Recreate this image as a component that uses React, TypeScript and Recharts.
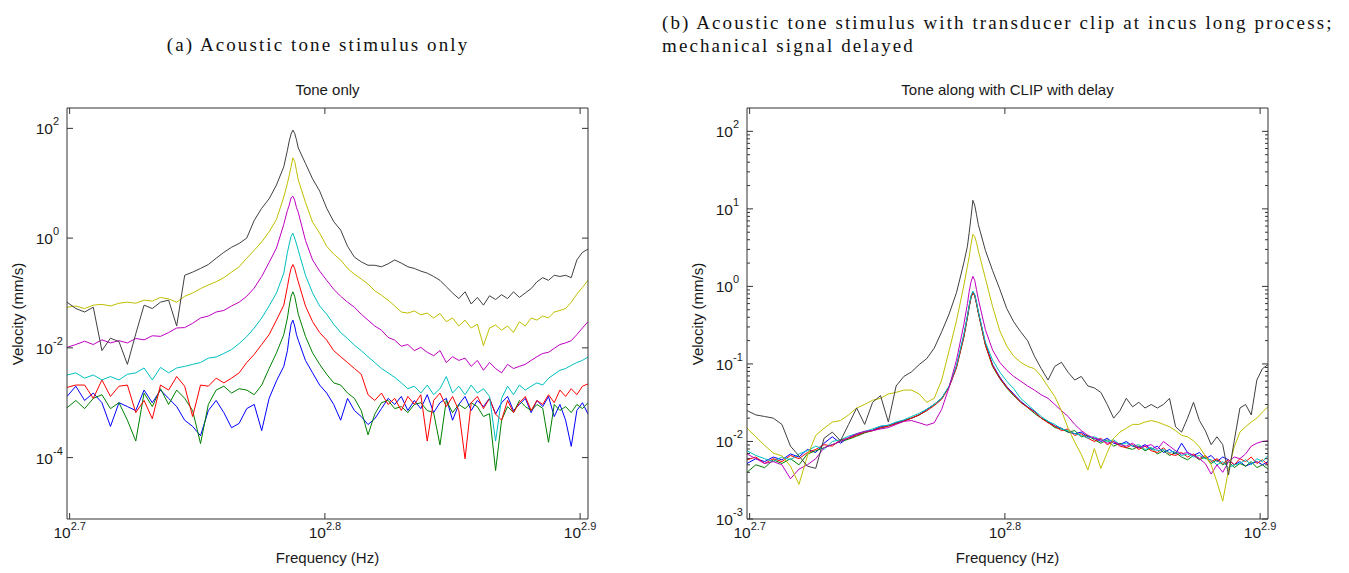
import React from "react";
import { Line, LineChart, XAxis, YAxis } from "recharts";

// frequency grid shared by every trace (Hz)
const freqHz = [
  500, 504, 508, 512, 516, 520, 524, 528, 532, 536,
  540, 544, 548, 552, 556, 560, 564, 568, 572, 576,
  580, 584, 588, 592, 596, 600, 604, 608,
  610, 611, 612, 613, 614, 615,
  616, 620, 624, 628, 632, 636, 640, 644, 648, 652,
  656, 660, 664, 668, 672, 676, 680, 684, 688, 692,
  696, 700, 704, 708, 712, 716, 720, 724, 728, 732,
  736, 740, 744, 748, 752, 756, 760, 764, 768, 772,
  776, 780, 784, 788, 792, 796, 800,
];

// (a) tone only, velocity in mm/s
const toneBlack = [
  0.068, 0.052, 0.045, 0.055, 0.0089, 0.015, 0.013, 0.005, 0.018, 0.06,
  0.052, 0.068, 0.074, 0.025, 0.21, 0.24, 0.28, 0.33, 0.43, 0.55,
  0.68, 0.8, 1.0, 2.1, 3.5, 5.2, 9.3, 20,
  40, 59, 79, 93, 81, 62,
  44, 23, 12, 7.2, 3.5, 2.0, 1.4, 0.71, 0.45, 0.37,
  0.32, 0.32, 0.3, 0.34, 0.4, 0.35, 0.3, 0.28, 0.25, 0.23,
  0.2, 0.17, 0.13, 0.1, 0.079, 0.105, 0.063, 0.083, 0.06, 0.089,
  0.076, 0.093, 0.079, 0.105, 0.083, 0.1, 0.12, 0.16, 0.19, 0.17,
  0.21, 0.2, 0.21, 0.19, 0.4, 0.55, 0.63,
];
const toneYellow = [
  0.055, 0.058, 0.052, 0.06, 0.062, 0.058, 0.065, 0.068, 0.065, 0.074,
  0.071, 0.083, 0.078, 0.068, 0.087, 0.1, 0.12, 0.14, 0.16, 0.19,
  0.24, 0.3, 0.43, 0.6, 0.85, 1.3, 2.2, 5.6,
  10, 14, 20, 29, 25, 17,
  11.5, 4.5, 1.95, 1.23, 0.71, 0.51, 0.4, 0.28, 0.22, 0.18,
  0.145, 0.11, 0.091, 0.074, 0.058, 0.045, 0.043, 0.047, 0.04, 0.043,
  0.035, 0.042, 0.03, 0.035, 0.025, 0.032, 0.023, 0.027, 0.011, 0.023,
  0.026, 0.021, 0.025, 0.019, 0.03, 0.025, 0.035, 0.032, 0.038, 0.035,
  0.045, 0.048, 0.052, 0.068, 0.095, 0.126, 0.17,
];
const toneMagenta = [
  0.0102, 0.0115, 0.0132, 0.0115, 0.014, 0.0123, 0.0135, 0.0123, 0.0148, 0.014,
  0.0166, 0.0162, 0.019, 0.023, 0.0234, 0.028, 0.035, 0.038, 0.045, 0.048,
  0.058, 0.068, 0.087, 0.123, 0.2, 0.36, 0.66, 1.78,
  3.2, 4.0, 5.4, 5.8, 4.9, 3.6,
  2.95, 0.91, 0.4, 0.25, 0.17, 0.117, 0.087, 0.068, 0.055, 0.041,
  0.032, 0.025, 0.021, 0.0155, 0.0138, 0.0107, 0.0115, 0.0089, 0.0102, 0.0083,
  0.0072, 0.0089, 0.0054, 0.0069, 0.0059, 0.0065, 0.0046, 0.0059, 0.0039, 0.0054,
  0.0042, 0.0035, 0.005, 0.0042, 0.0046, 0.005, 0.0059, 0.0069, 0.0079, 0.0083,
  0.0098, 0.0115, 0.0123, 0.0135, 0.0174, 0.023, 0.03,
];
const toneCyan = [
  0.0032, 0.0035, 0.0028, 0.0032, 0.0026, 0.003, 0.0026, 0.0033, 0.0035, 0.0043,
  0.0026, 0.0044, 0.0035, 0.0043, 0.0046, 0.005, 0.0054, 0.0065, 0.0068, 0.0079,
  0.0093, 0.012, 0.016, 0.023, 0.035, 0.058, 0.1, 0.23,
  0.55, 0.78, 1.07, 1.23, 1.0, 0.78,
  0.6, 0.21, 0.1, 0.058, 0.041, 0.027, 0.019, 0.0148, 0.0112, 0.0089,
  0.0069, 0.0054, 0.0042, 0.0035, 0.0029, 0.0023, 0.0018, 0.002, 0.0015, 0.0021,
  0.0014, 0.0018, 0.003, 0.0015, 0.002, 0.0014, 0.0021, 0.0015, 0.0018, 0.0013,
  0.0002, 0.0012, 0.002, 0.0014, 0.0021, 0.0017, 0.002, 0.0023, 0.0021, 0.0028,
  0.0033, 0.0039, 0.0042, 0.0048, 0.0054, 0.0059, 0.0068,
];
const toneRed = [
  0.0019, 0.0021, 0.0021, 0.0012, 0.0026, 0.0013, 0.002, 0.0021, 0.00066, 0.0011,
  0.00051, 0.0021, 0.0017, 0.003, 0.002, 0.00056, 0.0021, 0.002, 0.0028, 0.0023,
  0.0028, 0.0035, 0.0054, 0.0076, 0.0115, 0.0174, 0.032, 0.06,
  0.13, 0.2, 0.28, 0.33, 0.28, 0.21,
  0.16, 0.058, 0.03, 0.019, 0.0138, 0.0089, 0.0069, 0.0054, 0.0042, 0.0033,
  0.0014, 0.0011, 0.0015, 0.00093, 0.0012, 0.00072, 0.0013, 0.00093, 0.0014, 0.0002,
  0.0011, 0.0015, 0.00085, 0.0013, 0.00072, 0.000095, 0.001, 0.0013, 0.00078, 0.0012,
  0.00062, 0.00048, 0.0011, 0.00066, 0.001, 0.0013, 0.00072, 0.0011, 0.00093, 0.0014,
  0.001, 0.0017, 0.0013, 0.0018, 0.0014, 0.002, 0.0022,
];
const toneGreen = [
  0.00081, 0.0011, 0.00078, 0.0012, 0.0014, 0.00078, 0.001, 0.00048, 0.0002, 0.0015,
  0.00085, 0.0018, 0.00093, 0.0017, 0.0012, 0.00072, 0.00018, 0.00093, 0.0017, 0.002,
  0.0015, 0.0018, 0.0017, 0.0014, 0.0021, 0.0042, 0.0081, 0.0174,
  0.035, 0.058, 0.087, 0.105, 0.087, 0.06,
  0.041, 0.0162, 0.0081, 0.005, 0.0033, 0.0023, 0.0021, 0.0015, 0.0012, 0.00072,
  0.00026, 0.00062, 0.001, 0.0011, 0.00078, 0.00085, 0.00066, 0.00093, 0.001, 0.00072,
  0.00066, 0.00017, 0.0011, 0.00066, 0.00093, 0.00078, 0.001, 0.00085, 0.00056, 0.00063,
  0.000058, 0.00048, 0.00085, 0.00066, 0.0011, 0.00085, 0.00072, 0.00093, 0.00079, 0.00019,
  0.00093, 0.00072, 0.00085, 0.00066, 0.00093, 0.00078, 0.001,
];
const toneBlue = [
  0.0013, 0.002, 0.0011, 0.0015, 0.001, 0.00037, 0.001, 0.00085, 0.00072, 0.0017,
  0.001, 0.0017, 0.0012, 0.00085, 0.00048, 0.00037, 0.00025, 0.00072, 0.0011, 0.00066,
  0.00035, 0.00042, 0.00078, 0.00093, 0.00031, 0.0012, 0.0025, 0.0046,
  0.0089, 0.0162, 0.027, 0.032, 0.025, 0.0174,
  0.0138, 0.0059, 0.0035, 0.0021, 0.0015, 0.00093, 0.00048, 0.0012, 0.00072, 0.00056,
  0.0004, 0.00051, 0.00078, 0.0012, 0.00093, 0.0013, 0.00072, 0.0011, 0.00078, 0.0014,
  0.00066, 0.001, 0.0012, 0.00048, 0.00093, 0.0013, 0.00072, 0.0011, 0.00085, 0.0012,
  0.00062, 0.001, 0.0013, 0.00072, 0.00093, 0.0012, 0.00066, 0.0011, 0.00085, 0.0013,
  0.00056, 0.00093, 0.00048, 0.00016, 0.00072, 0.001, 0.00062,
];

// (b) tone with clip, delayed
const clipBlack = [
  0.025, 0.022, 0.021, 0.02, 0.0166, 0.0087, 0.0065, 0.0048, 0.0045, 0.011,
  0.0132, 0.0102, 0.0166, 0.027, 0.0166, 0.032, 0.039, 0.0178, 0.052, 0.069,
  0.079, 0.098, 0.117, 0.16, 0.26, 0.44, 0.83, 2.0,
  3.3, 5.0, 7.9, 12.9, 11.2, 8.5,
  6.3, 2.9, 1.6, 0.93, 0.52, 0.35, 0.26, 0.2, 0.126, 0.087,
  0.062, 0.093, 0.105, 0.078, 0.062, 0.069, 0.052, 0.049, 0.043, 0.03,
  0.02, 0.025, 0.036, 0.028, 0.032, 0.027, 0.03, 0.027, 0.03, 0.036,
  0.0155, 0.0132, 0.02, 0.032, 0.0186, 0.0138, 0.0091, 0.0115, 0.0091, 0.0037,
  0.0102, 0.027, 0.03, 0.022, 0.062, 0.087, 0.098,
];
const clipYellow = [
  0.0148, 0.0115, 0.0089, 0.0071, 0.0065, 0.0048, 0.0028, 0.0065, 0.012, 0.0148,
  0.0178, 0.0186, 0.022, 0.027, 0.03, 0.034, 0.036, 0.041, 0.043, 0.046,
  0.046, 0.041, 0.032, 0.036, 0.062, 0.148, 0.36, 1.02,
  1.82, 2.45, 3.5, 4.7, 4.4, 3.7,
  2.9, 1.26, 0.55, 0.27, 0.17, 0.126, 0.105, 0.093, 0.087, 0.069,
  0.051, 0.038, 0.025, 0.0148, 0.0098, 0.0068, 0.0043, 0.0081, 0.0045, 0.0072,
  0.011, 0.0132, 0.0148, 0.0166, 0.0166, 0.0178, 0.0186, 0.0178, 0.0166, 0.0155,
  0.0138, 0.012, 0.0115, 0.0102, 0.0085, 0.0065, 0.005, 0.003, 0.0017, 0.0043,
  0.0085, 0.0132, 0.0155, 0.0178, 0.02, 0.024, 0.028,
];
const clipMagenta = [
  0.0069, 0.006, 0.0052, 0.0055, 0.005, 0.0033, 0.0044, 0.005, 0.006, 0.0083,
  0.0091, 0.01, 0.0112, 0.0126, 0.0135, 0.0138, 0.0145, 0.0151, 0.0166, 0.0182,
  0.0186, 0.0174, 0.0162, 0.0174, 0.026, 0.05, 0.112, 0.32,
  0.6, 0.87, 1.15, 1.35, 1.2, 0.91,
  0.69, 0.275, 0.151, 0.105, 0.083, 0.069, 0.06, 0.052, 0.046, 0.04,
  0.036, 0.03, 0.025, 0.021, 0.0166, 0.0138, 0.012, 0.011, 0.0105, 0.0095,
  0.01, 0.0091, 0.0087, 0.0095, 0.0083, 0.0087, 0.0091, 0.0079, 0.01, 0.0087,
  0.0076, 0.0069, 0.0072, 0.0066, 0.006, 0.0052, 0.0038, 0.005, 0.004, 0.0055,
  0.0063, 0.006, 0.0069, 0.0087, 0.0095, 0.01, 0.0102,
];
const clipCyan = [
  0.0076, 0.0066, 0.006, 0.0055, 0.0063, 0.0058, 0.0069, 0.0076, 0.0087, 0.0079,
  0.01, 0.0105, 0.0117, 0.0126, 0.0135, 0.0145, 0.0158, 0.0162, 0.0178, 0.019,
  0.021, 0.023, 0.026, 0.03, 0.036, 0.052, 0.095, 0.24,
  0.42, 0.58, 0.76, 0.87, 0.79, 0.63,
  0.48, 0.19, 0.112, 0.079, 0.06, 0.048, 0.036, 0.03, 0.025, 0.021,
  0.0182, 0.0166, 0.0145, 0.0138, 0.0126, 0.012, 0.011, 0.0115, 0.0105, 0.01,
  0.0105, 0.0091, 0.0095, 0.0087, 0.0091, 0.0079, 0.0083, 0.0076, 0.0079, 0.0072,
  0.0076, 0.0066, 0.0069, 0.0063, 0.0066, 0.006, 0.0058, 0.005, 0.0055, 0.0046,
  0.005, 0.0052, 0.0058, 0.005, 0.006, 0.0055, 0.0066,
];
const clipRed = [
  0.0058, 0.0063, 0.0052, 0.006, 0.0055, 0.0066, 0.006, 0.0072, 0.0079, 0.0091,
  0.0087, 0.0105, 0.011, 0.012, 0.0132, 0.0138, 0.0151, 0.0158, 0.017, 0.0182,
  0.02, 0.022, 0.025, 0.029, 0.035, 0.05, 0.089, 0.22,
  0.4, 0.55, 0.72, 0.83, 0.76, 0.6,
  0.46, 0.174, 0.095, 0.066, 0.05, 0.04, 0.032, 0.0275, 0.024, 0.02,
  0.0174, 0.0158, 0.0138, 0.0145, 0.012, 0.0126, 0.011, 0.01, 0.011, 0.0091,
  0.01, 0.0087, 0.0083, 0.0091, 0.0079, 0.0087, 0.0076, 0.0072, 0.0083, 0.0069,
  0.0066, 0.0072, 0.0063, 0.0069, 0.006, 0.0066, 0.0055, 0.006, 0.0052, 0.0058,
  0.005, 0.006, 0.0055, 0.0063, 0.0052, 0.0058, 0.005,
];
const clipGreen = [
  0.004, 0.005, 0.0046, 0.0058, 0.0052, 0.006, 0.005, 0.0069, 0.0076, 0.0083,
  0.0091, 0.01, 0.0107, 0.0117, 0.0129, 0.0138, 0.0148, 0.0158, 0.017, 0.0186,
  0.02, 0.022, 0.025, 0.03, 0.036, 0.051, 0.091, 0.22,
  0.4, 0.55, 0.72, 0.83, 0.76, 0.6,
  0.46, 0.174, 0.093, 0.065, 0.049, 0.039, 0.032, 0.0275, 0.023, 0.02,
  0.0178, 0.0151, 0.0145, 0.0132, 0.0138, 0.0115, 0.012, 0.0105, 0.0095, 0.0105,
  0.0087, 0.0095, 0.0083, 0.0079, 0.0087, 0.0076, 0.0083, 0.0069, 0.0076, 0.0066,
  0.0072, 0.0063, 0.0058, 0.0066, 0.0058, 0.0063, 0.0052, 0.0058, 0.005, 0.0055,
  0.0046, 0.0052, 0.0048, 0.0055, 0.0046, 0.005, 0.0044,
];
const clipBlue = [
  0.0052, 0.006, 0.0055, 0.0063, 0.0058, 0.0069, 0.0063, 0.0079, 0.0072, 0.0095,
  0.0115, 0.0095, 0.0112, 0.0123, 0.0132, 0.014, 0.0155, 0.0162, 0.0174, 0.0186,
  0.02, 0.022, 0.026, 0.03, 0.036, 0.051, 0.093, 0.23,
  0.41, 0.56, 0.74, 0.85, 0.78, 0.62,
  0.47, 0.182, 0.098, 0.068, 0.051, 0.041, 0.033, 0.028, 0.0245, 0.02,
  0.0182, 0.0158, 0.0148, 0.0132, 0.0126, 0.0132, 0.0115, 0.011, 0.01, 0.011,
  0.0095, 0.0091, 0.01, 0.0087, 0.0083, 0.0091, 0.0079, 0.0087, 0.0072, 0.0079,
  0.0069, 0.0095, 0.0072, 0.0066, 0.0072, 0.006, 0.0066, 0.0055, 0.0063, 0.0058,
  0.005, 0.0055, 0.0048, 0.0052, 0.0055, 0.005, 0.0055,
];

// ticks
const xTicks = [501.19, 630.96, 794.33];
const xTickExps = ["2.7", "2.8", "2.9"];
const toneYTicks = [100, 1, 0.01, 0.0001];
const toneYExps = ["2", "0", "-2", "-4"];
const clipYTicks = [100, 10, 1, 0.1, 0.01, 0.001];
const clipYExps = ["2", "1", "0", "-1", "-2", "-3"];
const clipYMinor = [
  0.002, 0.003, 0.004, 0.005, 0.006, 0.007, 0.008, 0.009,
  0.02, 0.03, 0.04, 0.05, 0.06, 0.07, 0.08, 0.09,
  0.2, 0.3, 0.4, 0.5, 0.6, 0.7, 0.8, 0.9,
  2, 3, 4, 5, 6, 7, 8, 9,
  20, 30, 40, 50, 60, 70, 80, 90,
];

const AXIS = "#333";
const INK = "#1a1a1a";
const SANS = "'Liberation Sans', Arial, Helvetica, sans-serif";
const SERIF = "'Liberation Serif', 'Times New Roman', serif";

const COLORS = {
  blue: "#0000ff",
  green: "#008000",
  red: "#ff0000",
  cyan: "#00bfbf",
  magenta: "#bf00bf",
  yellow: "#bfbf00",
  black: "#404040",
};

type Trace = { key: string; color: string; values: number[] };

const toneTraces: Trace[] = [
  { key: "blue", color: COLORS.blue, values: toneBlue },
  { key: "green", color: COLORS.green, values: toneGreen },
  { key: "red", color: COLORS.red, values: toneRed },
  { key: "cyan", color: COLORS.cyan, values: toneCyan },
  { key: "magenta", color: COLORS.magenta, values: toneMagenta },
  { key: "yellow", color: COLORS.yellow, values: toneYellow },
  { key: "black", color: COLORS.black, values: toneBlack },
];

const clipTraces: Trace[] = [
  { key: "blue", color: COLORS.blue, values: clipBlue },
  { key: "green", color: COLORS.green, values: clipGreen },
  { key: "red", color: COLORS.red, values: clipRed },
  { key: "cyan", color: COLORS.cyan, values: clipCyan },
  { key: "magenta", color: COLORS.magenta, values: clipMagenta },
  { key: "yellow", color: COLORS.yellow, values: clipYellow },
  { key: "black", color: COLORS.black, values: clipBlack },
];

function PowerLabel({ x, y, exp, anchor }: { x: number; y: number; exp: string; anchor: "x" | "y" }) {
  // "10" with a raised exponent, matlab style
  if (anchor === "x") {
    return (
      <g fontFamily={SANS} fill={INK}>
        <text x={x + 1} y={y + 19} fontSize={15.5} textAnchor="end">10</text>
        <text x={x + 1} y={y + 11} fontSize={11} textAnchor="start">{exp}</text>
      </g>
    );
  }
  return (
    <g fontFamily={SANS} fill={INK}>
      <text x={x - 14} y={y + 6} fontSize={15.5} textAnchor="end">10</text>
      <text x={x - 14} y={y - 3} fontSize={11} textAnchor="start">{exp}</text>
    </g>
  );
}

function Panel({
  left,
  title,
  traces,
  yDomain,
  yMajor,
  yExps,
  yMinor,
}: {
  left: number;
  title: string;
  traces: Trace[];
  yDomain: [number, number];
  yMajor: number[];
  yExps: string[];
  yMinor: number[];
}) {
  const data = freqHz.map((f, i) => {
    const row: Record<string, number> = { f };
    traces.forEach((t) => {
      row[t.key] = t.values[i];
    });
    return row;
  });
  const yTicks = [...yMajor, ...yMinor];
  const tickLen = (v: number) => (yMajor.includes(v) ? 6 : 3);

  return (
    <div style={{ position: "absolute", left, top: 0, width: 680, height: 573 }}>
      <LineChart
        width={680}
        height={573}
        data={data}
        margin={{ top: 107, right: 91, bottom: 14, left: 0 }}
      >
        <XAxis
          xAxisId="b"
          dataKey="f"
          type="number"
          scale="log"
          domain={[500, 800]}
          allowDataOverflow
          ticks={xTicks}
          interval={0}
          tickSize={0}
          tickMargin={0}
          height={40}
          stroke={AXIS}
          tick={(p: any) => {
            const i = xTicks.indexOf(p.payload.value);
            return (
              <g>
                <line x1={p.x} y1={p.y} x2={p.x} y2={p.y - 6} stroke={AXIS} />
                <PowerLabel x={p.x} y={p.y} exp={xTickExps[i]} anchor="x" />
              </g>
            );
          }}
        />
        {/* top and right axes close the box; they need a size above 0 to be drawn */}
        <XAxis
          xAxisId="t"
          orientation="top"
          dataKey="f"
          type="number"
          scale="log"
          domain={[500, 800]}
          allowDataOverflow
          ticks={xTicks}
          interval={0}
          tickSize={0}
          tickMargin={0}
          height={1}
          stroke={AXIS}
          tick={(p: any) => (
            <line x1={p.x} y1={p.y} x2={p.x} y2={p.y + 6} stroke={AXIS} />
          )}
        />
        <YAxis
          yAxisId="l"
          type="number"
          scale="log"
          domain={yDomain}
          allowDataOverflow
          ticks={yTicks}
          interval={0}
          tickSize={0}
          tickMargin={0}
          width={67}
          stroke={AXIS}
          tick={(p: any) => {
            const v = p.payload.value;
            const i = yMajor.indexOf(v);
            return (
              <g>
                <line x1={p.x} y1={p.y} x2={p.x + tickLen(v)} y2={p.y} stroke={AXIS} />
                {i >= 0 && <PowerLabel x={p.x} y={p.y} exp={yExps[i]} anchor="y" />}
              </g>
            );
          }}
        />
        <YAxis
          yAxisId="r"
          orientation="right"
          type="number"
          scale="log"
          domain={yDomain}
          allowDataOverflow
          ticks={yTicks}
          interval={0}
          tickSize={0}
          tickMargin={0}
          width={1}
          stroke={AXIS}
          tick={(p: any) => (
            <line x1={p.x} y1={p.y} x2={p.x - tickLen(p.payload.value)} y2={p.y} stroke={AXIS} />
          )}
        />
        <Line
          xAxisId="t"
          yAxisId="r"
          dataKey={traces[0].key}
          stroke="none"
          dot={false}
          activeDot={false}
          isAnimationActive={false}
        />
        {traces.map((t) => (
          <Line
            key={t.key}
            xAxisId="b"
            yAxisId="l"
            dataKey={t.key}
            type="linear"
            stroke={t.color}
            strokeWidth={1}
            dot={false}
            isAnimationActive={false}
          />
        ))}
      </LineChart>

      <div
        style={{
          position: "absolute",
          left: 67,
          width: 521,
          top: 81,
          lineHeight: "18px",
          textAlign: "center",
          fontFamily: SANS,
          fontSize: 15,
          color: INK,
        }}
      >
        {title}
      </div>
      <div
        style={{
          position: "absolute",
          left: 67,
          width: 521,
          top: 549,
          lineHeight: "18px",
          textAlign: "center",
          fontFamily: SANS,
          fontSize: 15,
          color: INK,
        }}
      >
        Frequency (Hz)
      </div>
      <div
        style={{
          position: "absolute",
          left: -82,
          top: 305,
          width: 200,
          height: 18,
          lineHeight: "18px",
          textAlign: "center",
          transform: "rotate(-90deg)",
          fontFamily: SANS,
          fontSize: 15,
          color: INK,
        }}
      >
        Velocity (mm/s)
      </div>
    </div>
  );
}

const captionStyle: React.CSSProperties = {
  position: "absolute",
  fontFamily: SERIF,
  fontSize: 19,
  letterSpacing: "2.1px",
  color: "#111",
  whiteSpace: "nowrap",
};

export default function App() {
  return (
    <div style={{ position: "absolute", left: 0, top: 0, width: 1349, height: 573, background: "#fff" }}>
      <div style={{ ...captionStyle, left: 0, width: 636, top: 34, lineHeight: "22px", textAlign: "center" }}>
        (a) Acoustic tone stimulus only
      </div>
      <div style={{ ...captionStyle, left: 662, top: 11, lineHeight: "23px" }}>
        (b) Acoustic tone stimulus with transducer clip at incus long process;
        <br />
        mechanical signal delayed
      </div>
      <Panel
        left={0}
        title="Tone only"
        traces={toneTraces}
        yDomain={[7.6e-6, 235]}
        yMajor={toneYTicks}
        yExps={toneYExps}
        yMinor={[]}
      />
      <Panel
        left={680}
        title="Tone along with CLIP with delay"
        traces={clipTraces}
        yDomain={[0.001, 200]}
        yMajor={clipYTicks}
        yExps={clipYExps}
        yMinor={clipYMinor}
      />
    </div>
  );
}
